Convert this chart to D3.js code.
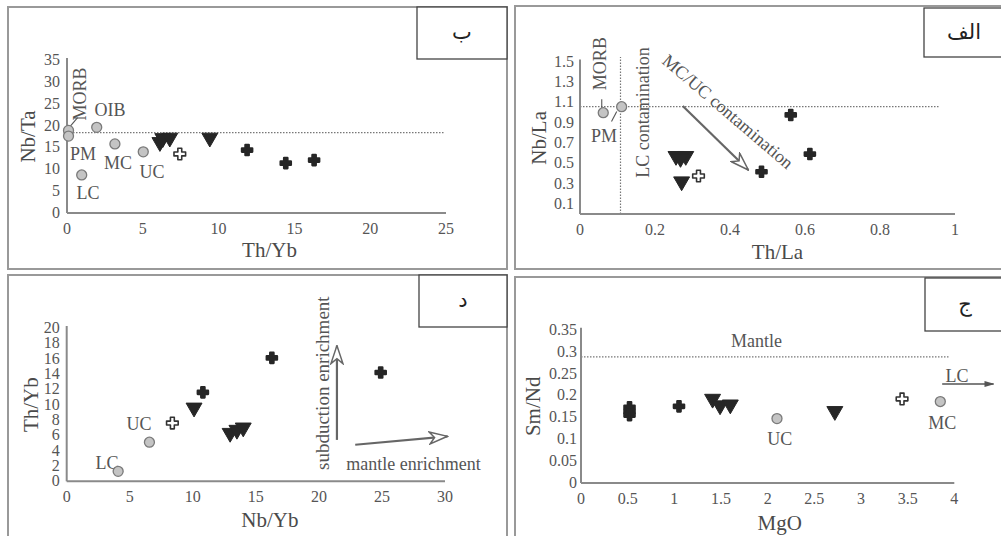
<!DOCTYPE html>
<html>
<head>
<meta charset="utf-8">
<script src="https://cdn.jsdelivr.net/npm/d3@7"></script>
<style>
  body { margin: 0; background: #fff; }
  svg { display: block; }
</style>
</head>
<body>
<svg id="chart" width="1001" height="536"></svg>
<script>
// ---- data: panel الف (Th/La vs Nb/La)
const refA = [
  { name: "MORB", x: 0.062, y: 0.997 },
  { name: "PM", x: 0.111, y: 1.056 },
];
const crossA = [[0.562, 0.975], [0.613, 0.59], [0.484, 0.416]];
const triA = [[0.256, 0.57], [0.282, 0.57], [0.268, 0.55], [0.271, 0.32]];
const openA = [[0.316, 0.374]];

// ---- data: panel ب (Th/Yb vs Nb/Ta)
const refB = [
  { name: "MORB", x: 0.1, y: 18.9 },
  { name: "PM", x: 0.1, y: 17.6 },
  { name: "OIB", x: 1.96, y: 19.6 },
  { name: "MC", x: 3.16, y: 15.8 },
  { name: "UC", x: 5.03, y: 14.0 },
  { name: "LC", x: 0.97, y: 8.7 },
];
const crossB = [[11.88, 14.4], [14.43, 11.4], [16.3, 12.1]];
const triB = [[6.13, 16.2], [6.32, 17.1], [6.78, 17.2], [9.42, 17.2]];
const openB = [[7.44, 13.5]];

// ---- data: panel د (Nb/Yb vs Th/Yb)
const refD = [
  { name: "LC", x: 4.08, y: 1.3 },
  { name: "UC", x: 6.56, y: 5.1 },
];
const crossD = [[10.8, 11.6], [16.27, 16.1], [24.9, 14.2]];
const triD = [[10.1, 9.6], [12.96, 6.3], [13.5, 6.7], [14.0, 7.0]];
const openD = [[8.38, 7.6]];

// ---- data: panel ج (MgO vs Sm/Nd)
const refJ = [
  { name: "UC", x: 2.1, y: 0.147 },
  { name: "MC", x: 3.85, y: 0.186 },
];
const crossJ = [[0.52, 0.173], [0.52, 0.163], [0.52, 0.155], [1.05, 0.175]];
const triJ = [[1.41, 0.192], [1.49, 0.177], [1.6, 0.179], [2.72, 0.164]];
const openJ = [[3.44, 0.192]];

// reference lines (data units)
const lineA = { h: 1.056, v: 0.108 };
const lineB = { h: 18.4 };
const lineJ = { h: 0.288 };

// tick values
const ticksA = { x: [0, 0.2, 0.4, 0.6, 0.8, 1], y: [0.1, 0.3, 0.5, 0.7, 0.9, 1.1, 1.3, 1.5] };
const ticksB = { x: [0, 5, 10, 15, 20, 25], y: [0, 5, 10, 15, 20, 25, 30, 35] };
const ticksD = { x: [0, 5, 10, 15, 20, 25, 30], y: [0, 2, 4, 6, 8, 10, 12, 14, 16, 18, 20] };
const ticksJ = { x: [0, 0.5, 1, 1.5, 2, 2.5, 3, 3.5, 4], y: [0, 0.05, 0.1, 0.15, 0.2, 0.25, 0.3, 0.35] };

const SERIF = "'Liberation Serif', 'DejaVu Serif', serif";

const svg = d3.select("#chart");

// arrow heads
const defs = svg.append("defs");
defs.append("marker")
  .attr("id", "hollow")
  .attr("viewBox", "0 0 20 14")
  .attr("refX", 19).attr("refY", 7)
  .attr("markerWidth", 20).attr("markerHeight", 14)
  .attr("markerUnits", "userSpaceOnUse")
  .attr("orient", "auto")
  .append("path")
  .attr("d", "M1,1 L19,7 L1,13 L6,7 Z")
  .attr("fill", "#fff").attr("stroke", "#666").attr("stroke-width", 1.5);
defs.append("marker")
  .attr("id", "solid")
  .attr("viewBox", "0 0 10 8")
  .attr("refX", 9).attr("refY", 4)
  .attr("markerWidth", 10).attr("markerHeight", 8)
  .attr("markerUnits", "userSpaceOnUse")
  .attr("orient", "auto")
  .append("path")
  .attr("d", "M0,1 L10,4 L0,7 Z")
  .attr("fill", "#555");

const fmt = (v) => String(+v.toFixed(2));

function drawPanel(p) {
  const g = svg.append("g");

  // frame
  g.append("rect")
    .attr("x", p.frame[0]).attr("y", p.frame[1])
    .attr("width", p.frame[2]).attr("height", p.frame[3])
    .attr("fill", "#fff").attr("stroke", "#999").attr("stroke-width", 2);

  // label box
  g.append("rect")
    .attr("x", p.box[0]).attr("y", p.box[1])
    .attr("width", p.box[2]).attr("height", p.box[3])
    .attr("fill", "#fff").attr("stroke", "#444").attr("stroke-width", 1.3);
  g.append("text")
    .attr("font-family", "'DejaVu Sans', sans-serif")
    .attr("font-size", 21)
    .attr("fill", "#222")
    .attr("x", p.box[0] + p.box[2] / 2)
    .attr("y", p.box[1] + p.box[3] / 2 + 6)
    .attr("text-anchor", "middle")
    .text(p.label);

  const x = d3.scaleLinear().domain(p.xDomain).range(p.xRange);
  const y = d3.scaleLinear().domain(p.yDomain).range(p.yRange);
  const x0 = p.xRange[0], y0 = p.yRange[0];

  // reference lines
  if (p.lines.h !== undefined) {
    g.append("line")
      .attr("x1", x(p.xDomain[0])).attr("x2", p.hEnd)
      .attr("y1", y(p.lines.h)).attr("y2", y(p.lines.h))
      .attr("stroke", "#777").attr("stroke-width", 1.2).attr("stroke-dasharray", "1.5,1.5");
  }
  if (p.lines.v !== undefined) {
    g.append("line")
      .attr("x1", x(p.lines.v)).attr("x2", x(p.lines.v))
      .attr("y1", y0).attr("y2", p.vTop)
      .attr("stroke", "#777").attr("stroke-width", 1.2).attr("stroke-dasharray", "1.5,1.5");
  }

  // axes
  g.append("line")
    .attr("x1", x0).attr("x2", p.xRange[1])
    .attr("y1", y0).attr("y2", y0)
    .attr("stroke", "#8a8a8a").attr("stroke-width", 2);
  g.append("line")
    .attr("x1", x0).attr("x2", x0)
    .attr("y1", y0).attr("y2", p.yRange[1] - 2)
    .attr("stroke", "#8a8a8a").attr("stroke-width", 2);

  const txt = (sel, size, color) =>
    sel.attr("font-family", SERIF).attr("font-size", size).attr("fill", color || "#555");

  txt(g.selectAll(".xt").data(p.ticks.x).enter().append("text"), 16)
    .attr("x", (d) => x(d)).attr("y", y0 + 21)
    .attr("text-anchor", "middle")
    .text(fmt);
  txt(g.selectAll(".yt").data(p.ticks.y).enter().append("text"), 16)
    .attr("x", x0 - p.yGap).attr("y", (d) => y(d) + 5)
    .attr("text-anchor", "end")
    .text(fmt);

  // titles
  txt(g.append("text"), 21, "#4a4a4a")
    .attr("x", (p.xRange[0] + p.xRange[1]) / 2 + p.xTitleShift)
    .attr("y", y0 + p.xTitleGap)
    .attr("text-anchor", "middle")
    .text(p.xTitle);
  txt(g.append("text"), 21, "#4a4a4a")
    .attr("transform", `translate(${x0 - p.yTitleGap},${(p.yRange[0] + p.yRange[1]) / 2}) rotate(-90)`)
    .attr("text-anchor", "middle")
    .text(p.yTitle);

  // annotations (positions in data units)
  (p.leaders || []).forEach((l) => {
    g.append("line")
      .attr("x1", x(l[0])).attr("y1", y(l[1]))
      .attr("x2", x(l[2])).attr("y2", y(l[3]))
      .attr("stroke", "#555").attr("stroke-width", 1.1);
  });
  (p.arrows || []).forEach((a) => {
    g.append("line")
      .attr("x1", x(a.from[0])).attr("y1", y(a.from[1]))
      .attr("x2", x(a.to[0])).attr("y2", y(a.to[1]))
      .attr("stroke", a.solid ? "#555" : "#666")
      .attr("stroke-width", a.solid ? 1.3 : 2.2)
      .attr("marker-end", a.solid ? "url(#solid)" : "url(#hollow)");
  });
  (p.notes || []).forEach((n) => {
    txt(g.append("text"), n.size || 18)
      .attr("transform", `translate(${x(n.x)},${y(n.y)}) rotate(${n.rot || 0})`)
      .attr("text-anchor", "middle")
      .attr("dy", "0.35em")
      .text(n.text);
  });

  // reference compositions
  g.selectAll(".ref").data(p.refs).enter().append("circle")
    .attr("cx", (d) => x(d.x)).attr("cy", (d) => y(d.y))
    .attr("r", 5)
    .attr("fill", "#c4c4c4").attr("stroke", "#7a7a7a").attr("stroke-width", 1.3);

  // samples
  const tri = d3.symbol().type(d3.symbolTriangle).size(110);
  g.selectAll(".tri").data(p.tri).enter().append("path")
    .attr("d", tri)
    .attr("transform", (d) => `translate(${x(d[0])},${y(d[1])}) rotate(180)`)
    .attr("fill", "#262626").attr("stroke", "#262626").attr("stroke-width", 1).attr("stroke-linejoin", "round");

  const cross = d3.symbol().type(d3.symbolCross).size(60);
  g.selectAll(".cross").data(p.cross).enter().append("path")
    .attr("d", cross)
    .attr("transform", (d) => `translate(${x(d[0])},${y(d[1])})`)
    .attr("fill", "#262626").attr("stroke", "#262626").attr("stroke-width", 2.2).attr("stroke-linejoin", "round");

  const openCross = d3.symbol().type(d3.symbolCross).size(75);
  g.selectAll(".open").data(p.open).enter().append("path")
    .attr("d", openCross)
    .attr("transform", (d) => `translate(${x(d[0])},${y(d[1])})`)
    .attr("fill", "#fff").attr("stroke", "#333").attr("stroke-width", 1.6).attr("stroke-linejoin", "round");
}

// ب (top left)
drawPanel({
  frame: [8, 7, 499, 262], box: [417, 7, 90, 52], label: "ب",
  xDomain: [0, 25], xRange: [67, 446], yDomain: [0, 35], yRange: [213, 60],
  ticks: ticksB, yGap: 7, xTitle: "Th/Yb", yTitle: "Nb/Ta",
  xTitleGap: 44, xTitleShift: 13, yTitleGap: 32,
  lines: lineB, hEnd: 445,
  refs: refB, cross: crossB, tri: triB, open: openB,
  leaders: [[0.15, 19.6, 0.7, 21.8]],
  notes: [
    { text: "MORB", x: 0.86, y: 27.2, rot: -90 },
    { text: "OIB", x: 2.83, y: 23.6 },
    { text: "PM", x: 1.05, y: 13.5 },
    { text: "MC", x: 3.36, y: 11.4 },
    { text: "UC", x: 5.6, y: 9.4 },
    { text: "LC", x: 1.38, y: 4.6 },
  ],
});

// الف (top right)
drawPanel({
  frame: [515, 6, 490, 263], box: [924, 8, 80, 49], label: "الف",
  xDomain: [0, 1], xRange: [580, 955], yDomain: [0, 1.5], yRange: [214, 61.6],
  ticks: ticksA, yGap: 6, xTitle: "Th/La", yTitle: "Nb/La",
  xTitleGap: 45, xTitleShift: 10, yTitleGap: 34,
  lines: lineA, hEnd: 939, vTop: 57,
  refs: refA, cross: crossA, tri: triA, open: openA,
  leaders: [[0.058, 1.04, 0.058, 1.13], [0.098, 1.01, 0.084, 0.91]],
  arrows: [{ from: [0.274, 1.063], to: [0.449, 0.433] }],
  notes: [
    { text: "MORB", x: 0.053, y: 1.48, rot: -90 },
    { text: "PM", x: 0.064, y: 0.77 },
    { text: "LC contamination", x: 0.168, y: 1.0, rot: -90 },
    { text: "MC/UC contamination", x: 0.395, y: 1.01, rot: 40.5 },
  ],
});

// د (bottom left)
drawPanel({
  frame: [8, 275, 499, 265], box: [419, 275, 88, 52], label: "د",
  xDomain: [0, 30], xRange: [66.7, 445], yDomain: [0, 20], yRange: [481.3, 328],
  ticks: ticksD, yGap: 7, xTitle: "Nb/Yb", yTitle: "Th/Yb",
  xTitleGap: 46, xTitleShift: 14, yTitleGap: 29,
  lines: {},
  refs: refD, cross: crossD, tri: triD, open: openD,
  arrows: [
    { from: [21.43, 5.4], to: [21.43, 17.7] },
    { from: [22.88, 4.77], to: [30.2, 5.87] },
  ],
  notes: [
    { text: "LC", x: 3.2, y: 2.4 },
    { text: "UC", x: 5.74, y: 7.5 },
    { text: "subduction enrichment", x: 20.24, y: 12.8, rot: -90, size: 19 },
    { text: "mantle enrichment", x: 27.5, y: 2.35 },
  ],
});

// ج (bottom right)
drawPanel({
  frame: [515, 277, 490, 263], box: [925, 278, 80, 53], label: "ج",
  xDomain: [0, 4], xRange: [581, 954.3], yDomain: [0, 0.35], yRange: [483, 329.7],
  ticks: ticksJ, yGap: 4, xTitle: "MgO", yTitle: "Sm/Nd",
  xTitleGap: 47, xTitleShift: 12, yTitleGap: 41,
  lines: lineJ, hEnd: 950,
  refs: refJ, cross: crossJ, tri: triJ, open: openJ,
  arrows: [{ from: [3.87, 0.226], to: [4.42, 0.226], solid: true }],
  notes: [
    { text: "Mantle", x: 1.88, y: 0.325 },
    { text: "LC", x: 4.03, y: 0.245 },
    { text: "UC", x: 2.13, y: 0.102 },
    { text: "MC", x: 3.87, y: 0.137 },
  ],
});
</script>
</body>
</html>
